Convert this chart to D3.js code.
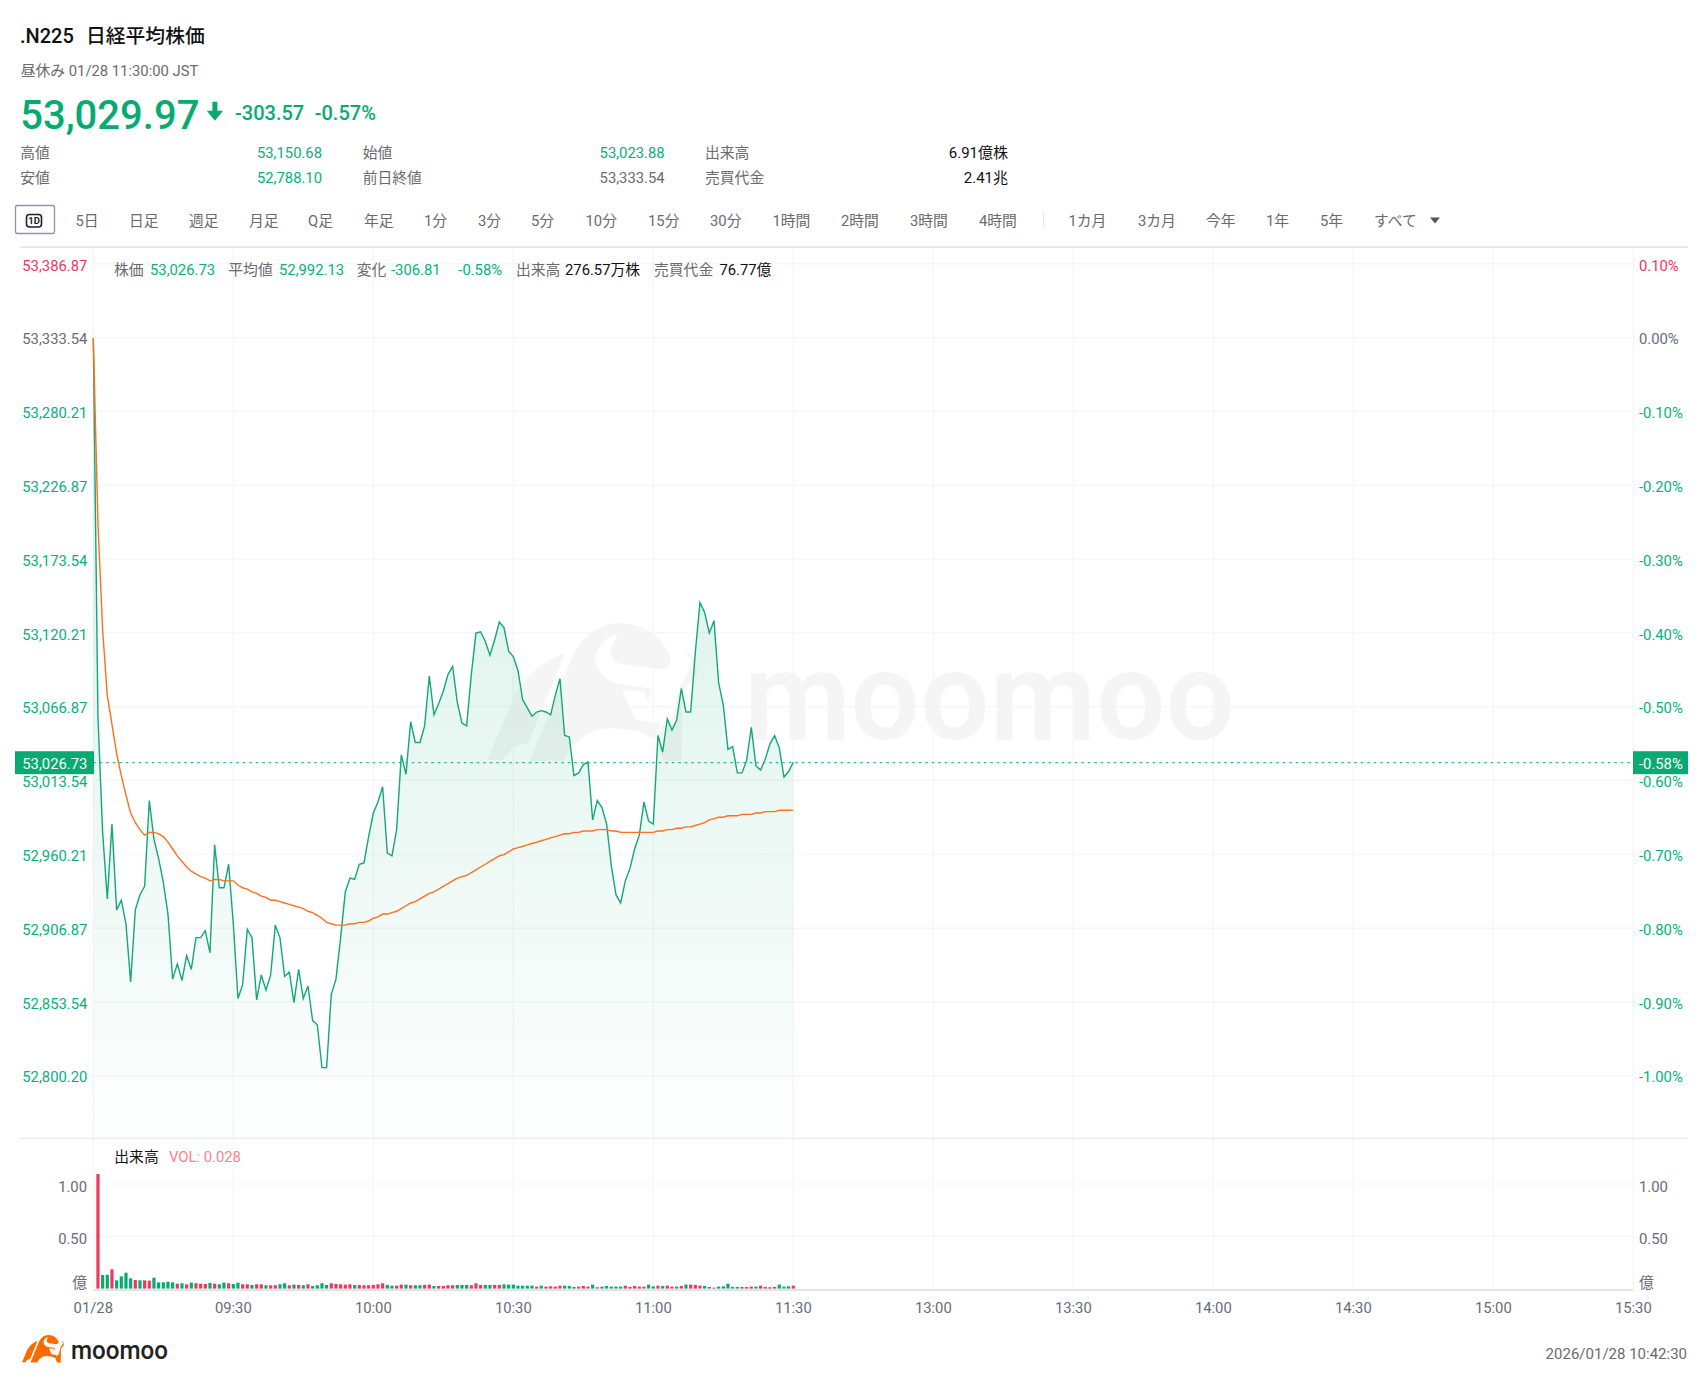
<!DOCTYPE html>
<html lang="ja">
<head>
<meta charset="utf-8">
<title>.N225 日経平均株価</title>
<script src="https://cdn.jsdelivr.net/npm/d3@7"></script>
<style>
  html, body { margin: 0; padding: 0; background: #fff; }
  svg { display: block; }
  text { font-family: Roboto, "Noto Sans CJK JP", sans-serif; }
</style>
</head>
<body>
<svg id="chart" width="1708" height="1384"></svg>
<script>
// minute by minute closes, 09:00 -> 11:30
const closePrices = [
  53333, 53059, 52976, 52928, 52982, 52920, 52927, 52910, 52868, 52920,
  52931, 52937, 52999, 52971, 52957, 52940, 52917, 52870, 52881, 52869,
  52887, 52877, 52900, 52900, 52905, 52889, 52967, 52936, 52936, 52953,
  52910, 52856, 52866, 52906, 52900, 52855, 52873, 52862, 52873, 52909,
  52900, 52872, 52875, 52853, 52877, 52856, 52865, 52840, 52837, 52806,
  52806, 52859, 52870, 52900, 52933, 52943, 52942, 52953, 52954, 52973,
  52990, 52998, 53009, 52961, 52959, 52978, 53032, 53018, 53056, 53041,
  53041, 53053, 53089, 53061, 53069, 53078, 53090, 53096, 53070, 53055,
  53053, 53090, 53120, 53121, 53114, 53104, 53115, 53128, 53124, 53107,
  53103, 53093, 53072, 53066, 53060, 53063, 53064, 53063, 53061, 53075,
  53087, 53046, 53045, 53017, 53019, 53025, 53027, 52985, 52999, 52994,
  52982, 52952, 52931, 52925, 52941, 52950, 52964, 52974, 52998, 52984,
  52982, 53046, 53034, 53058, 53050, 53057, 53080, 53063, 53063, 53106,
  53142, 53135, 53120, 53129, 53084, 53068, 53036, 53038, 53019, 53019,
  53028, 53052, 53024, 53021, 53029, 53040, 53046, 53037, 53016, 53020,
  53026.73
];

const avgPrices = [
  53333, 53199, 53122, 53075, 53054, 53033, 53017, 53003, 52990, 52983,
  52978, 52974, 52976, 52976, 52975, 52973, 52969, 52964, 52959, 52955,
  52951, 52948, 52946, 52944, 52943, 52941, 52942, 52942, 52941, 52941,
  52941, 52938, 52936, 52935, 52933, 52932, 52930, 52929, 52927, 52927,
  52926, 52925, 52924, 52923, 52922, 52921, 52919, 52918, 52916, 52914,
  52911, 52910, 52909, 52909, 52909, 52910, 52910, 52911, 52911, 52912,
  52914, 52915, 52917, 52917, 52918, 52919, 52921, 52923, 52925, 52926,
  52928, 52930, 52932, 52933, 52935, 52937, 52939, 52941, 52943, 52944,
  52945, 52947, 52949, 52951, 52953, 52955, 52957, 52959, 52960, 52962,
  52964, 52965, 52966, 52967, 52968, 52969, 52970, 52971, 52972, 52973,
  52974, 52975, 52975, 52976, 52976, 52977, 52977, 52977, 52978, 52978,
  52978, 52977, 52977, 52976, 52976, 52976, 52976, 52976, 52976, 52976,
  52976, 52977, 52977, 52978, 52978, 52979, 52979, 52980, 52980, 52981,
  52982, 52983, 52985, 52986, 52987, 52987, 52988, 52988, 52988, 52989,
  52989, 52989, 52990, 52990, 52991, 52991, 52991, 52992, 52992, 52992,
  52992.13
];

// 億株, bars start at 09:01
const volumes = [
  1.095, .130, .133, .184, .079, .117, .152, .098, .082, .079,
  .079, .076, .104, .060, .060, .066, .060, .047, .051, .041,
  .057, .051, .047, .044, .054, .047, .041, .057, .051, .044,
  .057, .041, .041, .035, .041, .041, .032, .032, .032, .041,
  .051, .032, .038, .035, .032, .041, .025, .032, .051, .035,
  .051, .044, .041, .038, .041, .035, .035, .032, .032, .035,
  .041, .051, .035, .028, .028, .038, .038, .032, .032, .032,
  .035, .038, .025, .025, .025, .032, .032, .035, .035, .035,
  .032, .051, .035, .035, .035, .035, .035, .041, .038, .038,
  .028, .028, .028, .028, .019, .028, .019, .022, .019, .028,
  .028, .025, .016, .019, .025, .019, .038, .013, .019, .025,
  .019, .019, .019, .028, .016, .025, .019, .019, .038, .022,
  .028, .025, .028, .019, .019, .025, .038, .038, .035, .028,
  .025, .016, .009, .019, .022, .047, .016, .016, .016, .016,
  .019, .019, .028, .016, .013, .016, .038, .019, .022, .028
];
// 1 = red bar, 0 = green bar
const volumeUp = [
  1, 0, 0, 1, 0, 0, 0, 0, 1, 0,
  1, 1, 0, 0, 0, 0, 0, 1, 0, 1,
  0, 1, 1, 1, 0, 1, 0, 0, 1, 0,
  0, 1, 1, 0, 1, 1, 0, 1, 1, 0,
  0, 1, 0, 1, 0, 1, 0, 0, 0, 0,
  1, 1, 1, 1, 1, 0, 1, 1, 1, 1,
  1, 1, 0, 0, 1, 1, 0, 1, 0, 0,
  1, 1, 0, 1, 1, 1, 1, 0, 0, 0,
  1, 1, 1, 0, 0, 1, 1, 0, 0, 0,
  0, 0, 0, 0, 1, 0, 1, 1, 1, 1,
  0, 0, 0, 1, 1, 1, 0, 1, 0, 0,
  0, 0, 0, 1, 1, 1, 1, 1, 0, 0,
  1, 0, 1, 1, 0, 1, 0, 1, 1, 1,
  0, 0, 1, 0, 0, 0, 0, 0, 1, 1,
  1, 0, 1, 1, 1, 1, 0, 0, 0, 1
];

const priceTicks = [53386.87, 53333.54, 53280.21, 53226.87, 53173.54, 53120.21, 53066.87, 53013.54, 52960.21, 52906.87, 52853.54, 52800.20];
const percentLabels = ["0.10%", "0.00%", "-0.10%", "-0.20%", "-0.30%", "-0.40%", "-0.50%", "-0.60%", "-0.70%", "-0.80%", "-0.90%", "-1.00%"];
const timeTicks = [0, 30, 60, 90, 120, 150, 180, 210, 240, 270, 300, 330];
const timeLabels = ["01/28", "09:30", "10:00", "10:30", "11:00", "11:30", "13:00", "13:30", "14:00", "14:30", "15:00", "15:30"];
const volumeTicks = [1, 0.5];

const periodNames = ["5日", "日足", "週足", "月足", "Q足", "年足", "1分", "3分", "5分", "10分", "15分", "30分", "1時間", "2時間", "3時間", "4時間", "1カ月", "3カ月", "今年", "1年", "5年", "すべて"];
const periodX = [75.5, 129, 189, 249, 308, 364, 424, 478, 531, 585.5, 648, 710, 772.5, 841, 910, 979, 1068.5, 1138, 1206, 1266, 1320, 1374];

const lastPrice = 53026.73, prevClose = 53333.54;

const GREEN = "#07ab72", TEXT_GREEN = "#06b07c", LINE_GREEN = "#12a877", RED = "#f0375b", ORANGE = "#ff6f1c";
const GRAY = "#666b7a", LABEL = "#6a6a6f", GRID = "#f5f5f6", RULE = "#e9e9ea";
const LABEL_SIZE = 14.8;

const svg = d3.select("#chart");

const x = d3.scaleLinear().domain([0, 330]).range([93.3, 1633.3]);
const y = d3.scaleLinear().domain([52800.20, 53386.87]).range([1075.7, 263.8]);
const yVol = d3.scaleLinear().domain([0, 1]).range([1288.6, 1184]);
const chartBottom = 1138.3;

function label(tx, ty, str, color, size, opts) {
  opts = opts || {};
  return svg.append("text")
    .attr("x", tx).attr("y", ty)
    .attr("fill", color)
    .attr("font-size", size)
    .attr("font-weight", opts.weight || 400)
    .attr("text-anchor", opts.anchor || "start")
    .text(str);
}

// watermark sits under everything
const logoParts = [
  "M262,542 L345,345 Q400,255 495,222 L385,490 Q330,500 310,542 Z",
  "M390,545 L520,225 Q575,130 660,132 Q770,135 812,235 Q812,268 780,270 L665,255 Q635,250 632,215 Q637,190 655,165 Q600,175 585,235 Q592,290 640,310 L755,328 L745,368 L733,338 L668,333 L705,420 L780,432 L770,480 Q710,445 620,447 Q535,455 490,545 Z",
  "M765,490 L790,435 L815,425 L840,320 L880,255 L857,215 Q895,235 890,290 L848,335 L845,545 L790,545 Z"
];
function drawLogo(tx, ty, k, color) {
  const g = svg.append("g").attr("transform", `translate(${tx},${ty}) scale(${k}) translate(-262,-132)`);
  g.selectAll("path").data(logoParts).join("path").attr("d", d => d).attr("fill", color);
}
drawLogo(487.3, 623.3, 1 / 3, "#f5f5f5");
svg.append("text")
  .attr("x", 744).attr("y", 739)
  .attr("font-size", 124).attr("font-family", "Inter, sans-serif").attr("font-weight", 600)
  .attr("fill", "#f5f5f5")
  .attr("textLength", 491).attr("lengthAdjust", "spacingAndGlyphs")
  .text("moomoo");

// grid
svg.append("g").selectAll("line").data(priceTicks).join("line")
  .attr("x1", x(0)).attr("x2", x(330)).attr("y1", d => y(d)).attr("y2", d => y(d))
  .attr("stroke", GRID).attr("stroke-width", 1.2);
svg.append("g").selectAll("line").data(volumeTicks).join("line")
  .attr("x1", x(0)).attr("x2", x(330)).attr("y1", d => yVol(d)).attr("y2", d => yVol(d))
  .attr("stroke", GRID).attr("stroke-width", 1.2);
svg.append("g").selectAll("line").data(timeTicks).join("line")
  .attr("x1", d => x(d)).attr("x2", d => x(d)).attr("y1", 247).attr("y2", 1290)
  .attr("stroke", GRID).attr("stroke-width", 1.2);

svg.append("line").attr("x1", 20).attr("x2", 1688).attr("y1", 247).attr("y2", 247).attr("stroke", RULE).attr("stroke-width", 2);
svg.append("line").attr("x1", 20).attr("x2", 1688).attr("y1", chartBottom).attr("y2", chartBottom).attr("stroke", RULE).attr("stroke-width", 1.2);
svg.append("line").attr("x1", x(0)).attr("x2", x(330)).attr("y1", 1290).attr("y2", 1290).attr("stroke", "#e3e3e3").attr("stroke-width", 2);

// area + lines
const defs = svg.append("defs");
const grad = defs.append("linearGradient").attr("id", "areaFill")
  .attr("gradientUnits", "userSpaceOnUse").attr("x1", 0).attr("x2", 0).attr("y1", y(prevClose)).attr("y2", chartBottom);
grad.append("stop").attr("offset", 0).attr("stop-color", "#0aa873").attr("stop-opacity", 0.18);
grad.append("stop").attr("offset", 1).attr("stop-color", "#0aa873").attr("stop-opacity", 0.01);

const area = d3.area().x((d, i) => x(i)).y0(chartBottom).y1(d => y(d));
const priceLine = d3.line().x((d, i) => x(i)).y(d => y(d));

svg.append("path").datum(closePrices).attr("d", area).attr("fill", "url(#areaFill)");
svg.append("path").datum(closePrices).attr("d", priceLine).attr("fill", "none").attr("stroke", LINE_GREEN).attr("stroke-width", 1.4);
svg.append("path").datum(avgPrices).attr("d", priceLine).attr("fill", "none").attr("stroke", ORANGE).attr("stroke-width", 1.4);

// last price marker
const lastY = y(lastPrice) + 0.5;
svg.append("line")
  .attr("x1", x(0)).attr("x2", x(330)).attr("y1", lastY).attr("y2", lastY)
  .attr("stroke", "#2fb48a").attr("stroke-width", 1.2).attr("stroke-dasharray", "2.5 4");

// volume bars
svg.append("g").selectAll("rect").data(volumes).join("rect")
  .attr("x", (d, i) => x(i + 1) - 1.6)
  .attr("width", 3.2)
  .attr("y", d => yVol(d))
  .attr("height", d => yVol(0) - yVol(d))
  .attr("fill", (d, i) => volumeUp[i] ? RED : GREEN);

// axes
function tidy(g) {
  g.select(".domain").remove();
  g.selectAll(".tick line").remove();
  g.selectAll("text").attr("font-size", LABEL_SIZE).attr("font-family", 'Roboto, "Noto Sans CJK JP", sans-serif');
}
const priceColor = i => i === 0 ? RED : (i === 1 ? GRAY : TEXT_GREEN);

const axisLeft = svg.append("g").attr("transform", "translate(87.3,1.5)")
  .call(d3.axisLeft(y).tickValues(priceTicks).tickSize(0).tickPadding(0).tickFormat(d3.format(",.2f")))
  .call(tidy);
axisLeft.selectAll("text").attr("fill", (d, i) => priceColor(i));

const axisRight = svg.append("g").attr("transform", "translate(1639,1.5)")
  .call(d3.axisRight(y).tickValues(priceTicks).tickSize(0).tickPadding(0).tickFormat((d, i) => percentLabels[i]))
  .call(tidy);
axisRight.selectAll("text").attr("fill", (d, i) => priceColor(i));

const axisTime = svg.append("g").attr("transform", "translate(-0.5,1302.5)")
  .call(d3.axisBottom(x).tickValues(timeTicks).tickSize(0).tickPadding(0).tickFormat((d, i) => timeLabels[i]))
  .call(tidy);
axisTime.selectAll("text").attr("fill", GRAY);

svg.append("g").attr("transform", "translate(87,2.3)")
  .call(d3.axisLeft(yVol).tickValues(volumeTicks).tickSize(0).tickPadding(0).tickFormat(d3.format(".2f")))
  .call(tidy).selectAll("text").attr("fill", GRAY);
svg.append("g").attr("transform", "translate(1639,2.3)")
  .call(d3.axisRight(yVol).tickValues(volumeTicks).tickSize(0).tickPadding(0).tickFormat(d3.format(".2f")))
  .call(tidy).selectAll("text").attr("fill", GRAY);
label(87, 1288, "億", GRAY, LABEL_SIZE, { anchor: "end" });
label(1639, 1288, "億", GRAY, LABEL_SIZE);

// last price tags
svg.append("rect").attr("x", 15).attr("y", lastY - 11.5).attr("width", 79).attr("height", 23).attr("fill", GREEN);
label(87.3, lastY + 6.2, "53,026.73", "#fff", LABEL_SIZE, { anchor: "end" });
svg.append("rect").attr("x", 1633).attr("y", lastY - 11.5).attr("width", 55).attr("height", 23).attr("fill", GREEN);
label(1639, lastY + 6.2, "-0.58%", "#fff", LABEL_SIZE);

// header
label(20, 43, ".N225", "#111", 20, { weight: 500 });
label(86, 43, "日経平均株価", "#111", 19.8, { weight: 500 });
label(20.7, 76, "昼休み 01/28 11:30:00 JST", LABEL, 14.8);
label(20.2, 129.3, "53,029.97", GREEN, 40, { weight: 500 });
svg.append("path").attr("d", "M212.4,101.7 h5 v9 h5.6 L214.9,120.7 L206.7,110.7 h5.7 Z").attr("fill", GREEN);
label(235, 120, "-303.57", GREEN, 20, { weight: 500 });
label(314.7, 120, "-0.57%", GREEN, 20, { weight: 500 });

label(20.2, 158.3, "高値", LABEL, LABEL_SIZE);
label(322, 158.3, "53,150.68", TEXT_GREEN, LABEL_SIZE, { anchor: "end" });
label(20.2, 182.7, "安値", LABEL, LABEL_SIZE);
label(322, 182.7, "52,788.10", TEXT_GREEN, LABEL_SIZE, { anchor: "end" });
label(362.7, 158.3, "始値", LABEL, LABEL_SIZE);
label(664.6, 158.3, "53,023.88", TEXT_GREEN, LABEL_SIZE, { anchor: "end" });
label(362.7, 182.7, "前日終値", LABEL, LABEL_SIZE);
label(664.6, 182.7, "53,333.54", LABEL, LABEL_SIZE, { anchor: "end" });
label(705, 158.3, "出来高", LABEL, LABEL_SIZE);
label(1008, 158.3, "6.91億株", "#111", 15, { anchor: "end" });
label(705, 182.7, "売買代金", LABEL, LABEL_SIZE);
label(1008, 182.7, "2.41兆", "#111", 15, { anchor: "end" });

// toolbar
svg.append("rect").attr("x", 15.5).attr("y", 205.5).attr("width", 39).attr("height", 28).attr("rx", 2)
  .attr("fill", "#fff").attr("stroke", "#8b94a8").attr("stroke-width", 1.3);
svg.append("rect").attr("x", 26.5).attr("y", 214.5).attr("width", 15).attr("height", 12.5).attr("rx", 3)
  .attr("fill", "none").attr("stroke", "#222").attr("stroke-width", 1.6);
label(34, 224.3, "1D", "#222", 9.5, { anchor: "middle", weight: 700 });
periodNames.forEach((name, i) => label(periodX[i], 225.7, name, LABEL, LABEL_SIZE));
svg.append("line").attr("x1", 1043.5).attr("x2", 1043.5).attr("y1", 212).attr("y2", 227).attr("stroke", "#e6e6e6");
svg.append("path").attr("d", "M1430,217.5 h10 l-5,6 Z").attr("fill", "#555");

// readout row
label(114, 275, "株価", LABEL, LABEL_SIZE);
label(150, 275, "53,026.73", TEXT_GREEN, LABEL_SIZE);
label(228.3, 275, "平均値", LABEL, LABEL_SIZE);
label(279, 275, "52,992.13", TEXT_GREEN, LABEL_SIZE);
label(356.7, 275, "変化", LABEL, LABEL_SIZE);
label(391, 275, "-306.81", TEXT_GREEN, LABEL_SIZE);
label(458.3, 275, "-0.58%", TEXT_GREEN, LABEL_SIZE);
label(516, 275, "出来高", LABEL, LABEL_SIZE);
label(565, 275, "276.57万株", "#111", LABEL_SIZE);
label(654, 275, "売買代金", LABEL, LABEL_SIZE);
label(719.4, 275, "76.77億", "#111", LABEL_SIZE);

label(114.3, 1162, "出来高", "#111", LABEL_SIZE);
label(169, 1162, "VOL: 0.028", "#ff808c", LABEL_SIZE);

// footer
drawLogo(22, 1335, 0.0665, "#ff6a00");
svg.append("text")
  .attr("x", 71).attr("y", 1358.5)
  .attr("font-size", 25).attr("font-family", "Inter, sans-serif").attr("font-weight", 500)
  .attr("fill", "#222")
  .attr("textLength", 97).attr("lengthAdjust", "spacingAndGlyphs")
  .text("moomoo");
label(1687, 1358.5, "2026/01/28 10:42:30", LABEL, 15, { anchor: "end" });
</script>
</body>
</html>
